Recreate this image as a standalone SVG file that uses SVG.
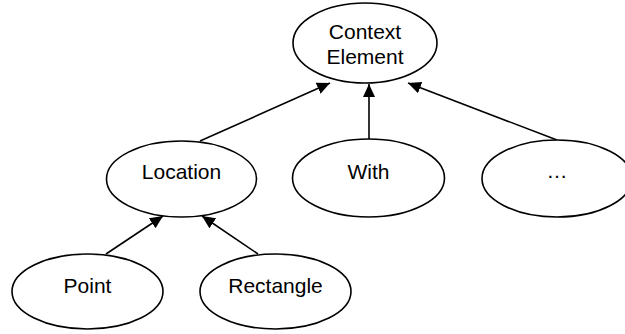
<svg xmlns="http://www.w3.org/2000/svg" width="625" height="334" viewBox="0 0 625 334">
<style>
.n ellipse{fill:#fff;stroke:#000;stroke-width:1.6}
.n text{font-family:"Liberation Sans",Arial,sans-serif;font-size:21px;fill:#000;text-anchor:middle}
.c line{stroke:#000;stroke-width:1.6;marker-end:url(#ah)}
</style>
<defs>
<marker id="ah" markerUnits="userSpaceOnUse" markerWidth="14" markerHeight="12" refX="13" refY="6" orient="auto">
<path d="M0,0 L13,6 L0,12 Z" fill="#000"/>
</marker>
</defs>
<rect width="625" height="334" fill="#fff"/>
<g class="c" id="connectors">
<line x1="200" y1="141" x2="330" y2="83"/>
<line x1="369" y1="139" x2="369" y2="84"/>
<line x1="557" y1="140" x2="408" y2="83"/>
<line x1="106" y1="254" x2="163" y2="216"/>
<line x1="258" y1="254" x2="202" y2="216"/>
</g>
<g class="n" id="context">
<ellipse cx="365" cy="43" rx="72" ry="40"/>
<text x="365" y="39">Context</text>
<text x="365" y="64">Element</text>
</g>
<g class="n" id="location">
<ellipse cx="181.5" cy="179" rx="75" ry="38"/>
<text x="181.5" y="179">Location</text>
</g>
<g class="n" id="with">
<ellipse cx="368.5" cy="178" rx="76" ry="39"/>
<text x="368.5" y="179">With</text>
</g>
<g class="n" id="more">
<ellipse cx="557" cy="178.5" rx="75" ry="38.5"/>
<text x="557" y="178">…</text>
</g>
<g class="n" id="point">
<ellipse cx="87.5" cy="291.5" rx="75.5" ry="37.5"/>
<text x="87.5" y="293">Point</text>
</g>
<g class="n" id="rectangle">
<ellipse cx="275.5" cy="291.5" rx="75.5" ry="37.5"/>
<text x="275.5" y="293">Rectangle</text>
</g>
</svg>
